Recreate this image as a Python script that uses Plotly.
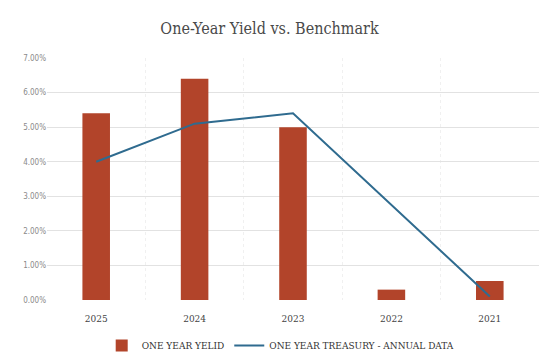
import plotly.graph_objects as go

# Years shown left to right (most recent first)
years = ["2025", "2024", "2023", "2022", "2021"]
one_year_yield = [5.4, 6.4, 5.0, 0.3, 0.55]
treasury_annual = [4.0, 5.1, 5.4, 2.75, 0.1]

bar_color = "#B2442A"
line_color = "#2F6B8F"
serif = "DejaVu Serif Condensed, DejaVu Serif, serif"

fig = go.Figure()
fig.add_trace(go.Bar(
    x=years, y=one_year_yield, name="ONE YEAR YELID",
    marker=dict(color=bar_color, line=dict(width=0)),
    width=0.28,
))
fig.add_trace(go.Scatter(
    x=years, y=treasury_annual, name="ONE YEAR TREASURY - ANNUAL DATA",
    mode="lines", line=dict(color=line_color, width=2),
))

fig.update_layout(
    width=539, height=360,
    margin=dict(l=47, r=0, t=58, b=58),
    paper_bgcolor="white", plot_bgcolor="white",
    title=dict(text="One-Year Yield vs. Benchmark", x=0.5, xanchor="center",
               y=0.922, yanchor="middle",
               font=dict(family=serif, size=16, color="#4A4A4A")),
    legend=dict(orientation="h", x=0.475, xanchor="center", y=-0.19, yanchor="middle",
                font=dict(family=serif, size=10, color="#333333"),
                itemwidth=30, tracegroupgap=0),
    bargap=0.72,
)
fig.update_xaxes(
    type="category", tickson="boundaries", showgrid=True,
    gridcolor="rgba(0,0,0,0.06)", gridwidth=1, griddash="dot",
    showline=False, ticks="", zeroline=False, ticklabelstandoff=11,
    tickfont=dict(family=serif, size=10, color="#444444"),
)
fig.update_yaxes(
    range=[0, 7], dtick=1, tickformat=".2f", ticksuffix="%",
    showgrid=True, gridcolor="#E2E2E2", gridwidth=1, zeroline=False,
    showline=False, ticks="",
    tickfont=dict(family="DejaVu Sans Condensed, DejaVu Sans, sans-serif", size=8, color="#8A8A8A"),
)

fig.write_html("out.html")
